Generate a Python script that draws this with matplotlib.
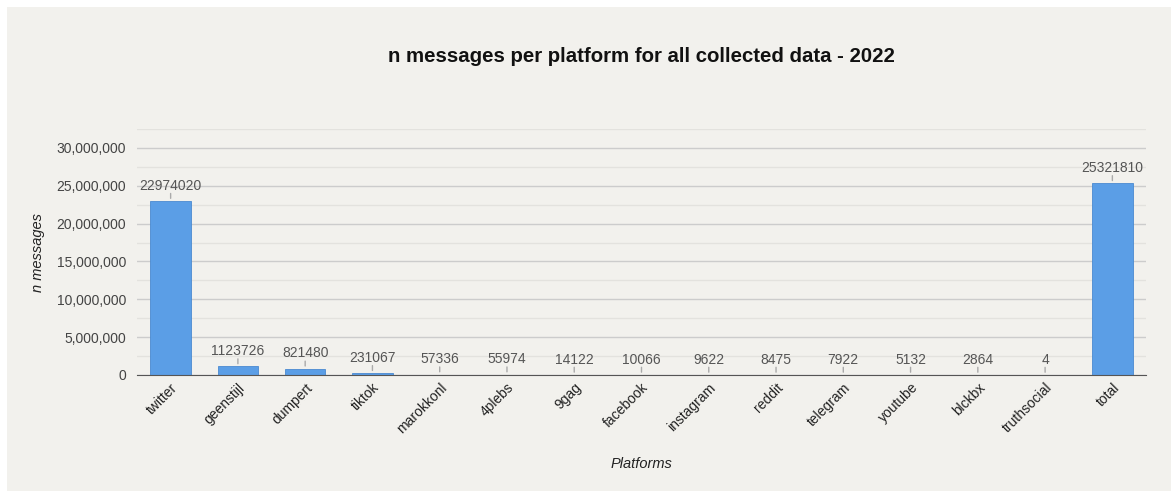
import matplotlib.pyplot as plt
from matplotlib.patches import Rectangle
from matplotlib.ticker import MultipleLocator, FuncFormatter

platforms = ['twitter', 'geenstijl', 'dumpert', 'tiktok', 'marokkonl', '4plebs', '9gag',
             'facebook', 'instagram', 'reddit', 'telegram', 'youtube', 'blckbx',
             'truthsocial', 'total']
n_messages = [22974020, 1123726, 821480, 231067, 57336, 55974, 14122,
              10066, 9622, 8475, 7922, 5132, 2864, 4, 25321810]

bg = '#f2f1ed'
plt.rcParams['font.family'] = ['Liberation Sans', 'DejaVu Sans']

fig = plt.figure(figsize=(11.71, 4.91), dpi=100, facecolor='white')
fig.patches.append(Rectangle((7 / 1171, 0), 1, 484 / 491, transform=fig.transFigure,
                             facecolor=bg, edgecolor='none', zorder=-10))
ax = fig.add_axes([137 / 1171, 116 / 491, 1009 / 1171, 246 / 491])
ax.set_facecolor(bg)

x = list(range(len(platforms)))
ax.bar(x, n_messages, width=0.6, color='#5b9ee6', edgecolor='#4a8ad0', linewidth=0.6, zorder=3)

# labels with a short leader line
for xi, v in zip(x, n_messages):
    ax.annotate('', xy=(xi, v), xytext=(0, 7.5), textcoords='offset points',
                arrowprops=dict(arrowstyle='-', color='#aaaaaa', lw=1))
    ax.annotate(str(v), xy=(xi, v), xytext=(0, 6), textcoords='offset points',
                ha='center', va='bottom', fontsize=10, color='#555555')

ax.set_xlim(-0.5, len(platforms) - 0.5)
ax.set_ylim(0, 32500000)
ax.yaxis.set_major_locator(MultipleLocator(5000000))
ax.yaxis.set_minor_locator(MultipleLocator(2500000))
ax.yaxis.set_major_formatter(FuncFormatter(lambda v, p: f'{int(v):,}'))
ax.grid(axis='y', which='major', color='#cccccc', lw=1, zorder=0)
ax.grid(axis='y', which='minor', color='#e3e2de', lw=1, zorder=0)
ax.tick_params(axis='y', which='both', length=0, labelsize=10, labelcolor='#444444', pad=8)
ax.tick_params(axis='x', length=0, labelsize=10, labelcolor='#222222', pad=4)

ax.set_xticks(x)
ax.set_xticklabels(platforms, rotation=45, ha='right', rotation_mode='anchor')

for s in ['top', 'right', 'left']:
    ax.spines[s].set_visible(False)
ax.spines['bottom'].set_color('#555555')
ax.spines['bottom'].set_zorder(4)

ax.set_ylabel('n messages', fontstyle='italic', fontsize=10.5, color='#222222', labelpad=8)
ax.set_xlabel('Platforms', fontstyle='italic', fontsize=10.5, color='#222222', labelpad=15)
fig.text(641 / 1171, 1 - 57 / 491, 'n messages per platform for all collected data - 2022',
         ha='center', va='center', fontsize=14.7, fontweight='bold', color='#111111')

plt.savefig('out.png', dpi=100, facecolor=fig.get_facecolor())
